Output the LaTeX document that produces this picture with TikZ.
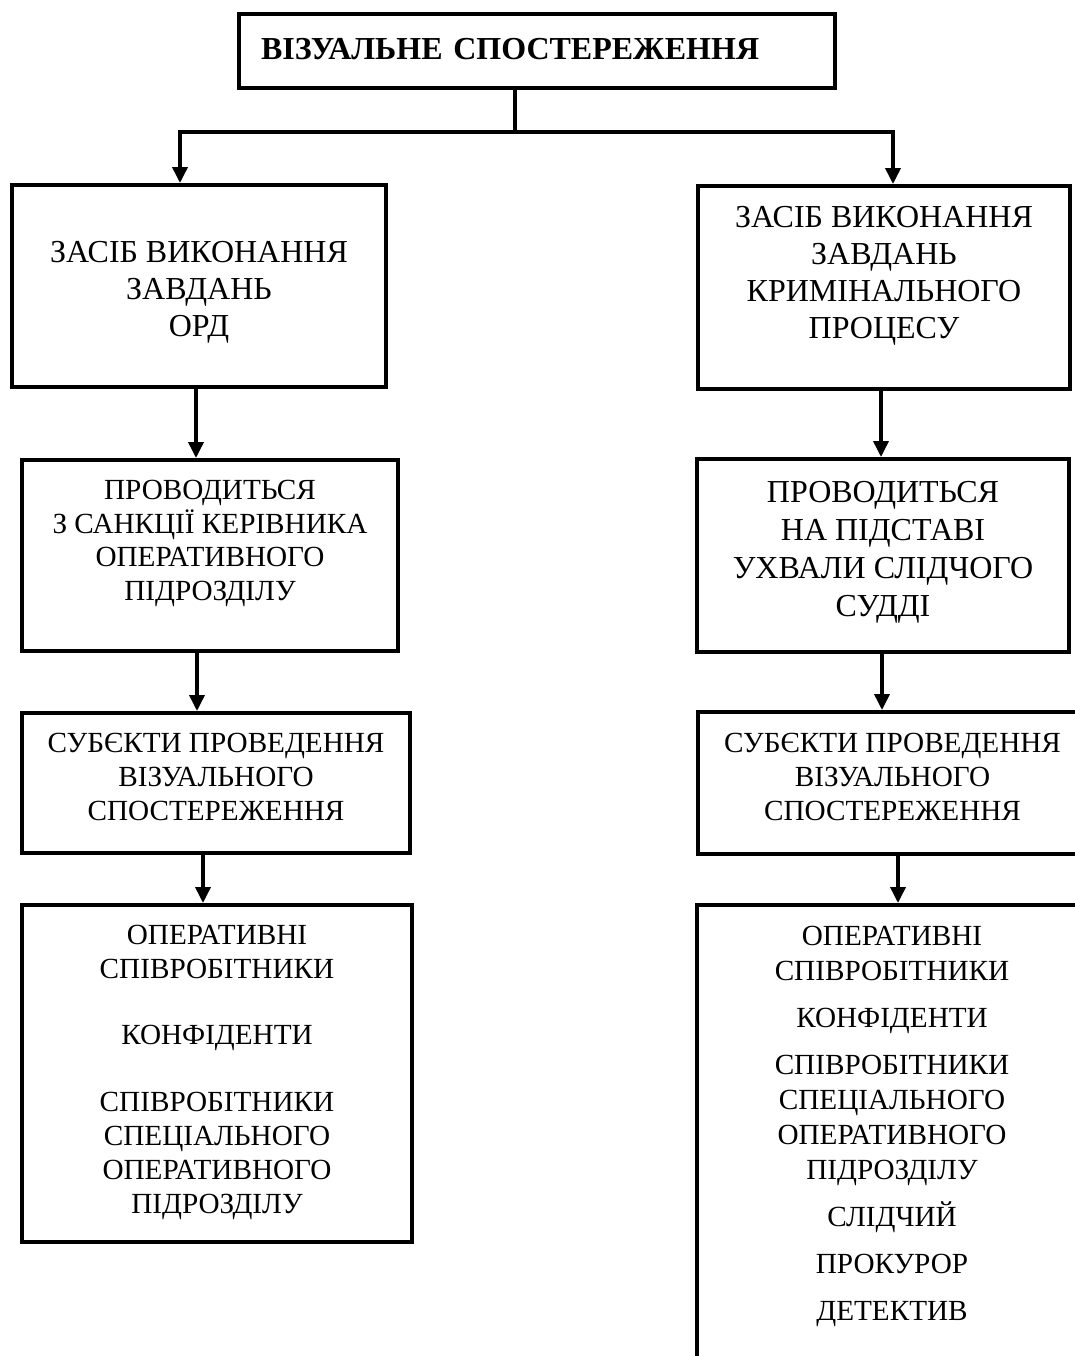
\documentclass[tikz,border=0pt]{standalone}
\usepackage{fontspec}
\setmainfont{Liberation Serif}
\usetikzlibrary{arrows.meta}
\tikzset{
  blk/.style={draw, line width=2pt, inner sep=0pt, align=center, anchor=north west},
  arr/.style={line width=1.8pt, -{Triangle[width=7.5pt,length=8pt]}},
}
\begin{document}
\begin{tikzpicture}[x=0.5pt,y=-0.5pt]
    \useasboundingbox (0,0) rectangle (1075,1356);

    \node[blk, align=left, text width=276pt, inner xsep=11pt, text height=22.5pt, text depth=14.5pt,
        font=\fontsize{16}{19}\selectfont\bfseries] (vis) at (237,12) {ВІЗУАЛЬНЕ СПОСТЕРЕЖЕННЯ};

    \node[blk, minimum width=187pt, text height=75.5pt, text depth=25.5pt,
        font=\fontsize{16}{18.5}\selectfont] (ord) at (10,183) {ЗАСІБ ВИКОНАННЯ\\ЗАВДАНЬ\\ОРД};
    \node[blk, minimum width=186pt, text height=76pt, text depth=25.5pt,
        font=\fontsize{16}{18.5}\selectfont] (crim) at (696,184) {ЗАСІБ ВИКОНАННЯ\\ЗАВДАНЬ\\КРИМІНАЛЬНОГО\\ПРОЦЕСУ};

    \node[blk, minimum width=188pt, text height=70pt, text depth=25.5pt,
        font=\fontsize{14.6}{16.7}\selectfont] (sanc) at (20,458) {ПРОВОДИТЬСЯ\\З САНКЦІЇ КЕРІВНИКА\\ОПЕРАТИВНОГО\\ПІДРОЗДІЛУ};
    \node[blk, minimum width=186pt, text height=78.5pt, text depth=18pt,
        font=\fontsize{16}{19}\selectfont] (ukh) at (695,457) {ПРОВОДИТЬСЯ\\НА ПІДСТАВІ\\УХВАЛИ СЛІДЧОГО\\СУДДІ};

    \node[blk, minimum width=194pt, text height=53.5pt, text depth=16.5pt,
        font=\fontsize{14.6}{17}\selectfont] (subl) at (20,711) {СУБЄКТИ ПРОВЕДЕННЯ\\ВІЗУАЛЬНОГО\\СПОСТЕРЕЖЕННЯ};
    \node[blk, minimum width=194.5pt, text height=54pt, text depth=17pt,
        font=\fontsize{14.6}{17}\selectfont] (subr) at (696,710) {СУБЄКТИ ПРОВЕДЕННЯ\\ВІЗУАЛЬНОГО\\СПОСТЕРЕЖЕННЯ};

    \node[blk, minimum width=195pt, text height=154pt, text depth=14.5pt,
        font=\fontsize{14.6}{17}\selectfont] (osl) at (20,903)
        {ОПЕРАТИВНІ\\СПІВРОБІТНИКИ\\[16pt]КОНФІДЕНТИ\\[16.5pt]СПІВРОБІТНИКИ\\СПЕЦІАЛЬНОГО\\ОПЕРАТИВНОГО\\ПІДРОЗДІЛУ};
    \node[blk, minimum width=195pt, text height=207.5pt, text depth=41pt,
        font=\fontsize{14.6}{17.5}\selectfont] (osr) at (695,903)
        {ОПЕРАТИВНІ\\СПІВРОБІТНИКИ\\[6pt]КОНФІДЕНТИ\\[6pt]СПІВРОБІТНИКИ\\СПЕЦІАЛЬНОГО\\ОПЕРАТИВНОГО\\ПІДРОЗДІЛУ\\[6pt]СЛІДЧИЙ\\[6pt]ПРОКУРОР\\[6pt]ДЕТЕКТИВ};

    \coordinate (split) at (515,132);
    \coordinate (lft) at (180,132);
    \coordinate (rgt) at (893,132);
    \draw[line width=2pt] (split |- vis.south) -- (split);
    \draw[arr] (split) -| (lft |- ord.north);
    \draw[arr] (split) -| (rgt |- crim.north);

    \draw[arr] ([xshift=-1.5pt]ord.south) -- ([xshift=-7pt]sanc.north);
    \draw[arr] ([xshift=-6.5pt]sanc.south) -- ([xshift=-9.5pt]subl.north);
    \draw[arr] ([xshift=-6.5pt]subl.south) -- ([xshift=-7pt]osl.north);
    \draw[arr] ([xshift=-1.5pt]crim.south) -- ([xshift=-1pt]ukh.north);
    \draw[arr] ([xshift=-0.5pt]ukh.south) -- ([xshift=-5.25pt]subr.north);
    \draw[arr] ([xshift=2.75pt]subr.south) -- ([xshift=3pt]osr.north);
\end{tikzpicture}
\end{document}
